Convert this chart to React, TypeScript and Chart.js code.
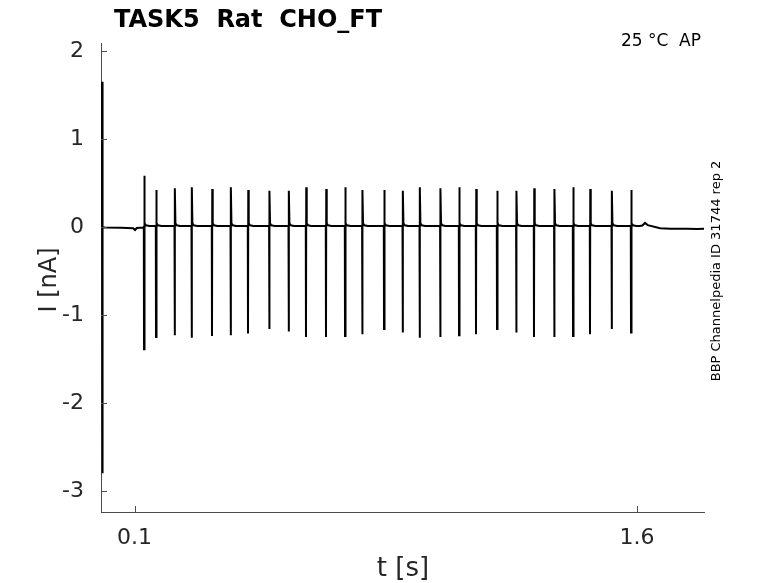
import React, { useEffect, useRef } from "react";
import { Chart, registerables } from "chart.js";

Chart.register(...registerables);

// ---- data ----
const spikeTimes = [
  0.1284, 0.1642, 0.22, 0.2707, 0.3313, 0.3872, 0.4388, 0.5024, 0.5603,
  0.6119, 0.6716, 0.7284, 0.78, 0.8448, 0.9006, 0.9513, 1.0128, 1.0687,
  1.1194, 1.1821, 1.2397, 1.2925, 1.3531, 1.409, 1.4597, 1.5245, 1.5821,
];
const spikePeaks = [
  0.58, 0.42, 0.44, 0.45, 0.43, 0.45, 0.42, 0.41, 0.41, 0.45, 0.43, 0.45,
  0.42, 0.42, 0.41, 0.45, 0.44, 0.45, 0.43, 0.41, 0.41, 0.44, 0.43, 0.45,
  0.43, 0.41, 0.42,
];
const spikeTroughs = [
  -1.39, -1.25, -1.23, -1.26, -1.24, -1.23, -1.21, -1.16, -1.19, -1.25,
  -1.25, -1.24, -1.22, -1.16, -1.2, -1.26, -1.25, -1.23, -1.22, -1.16, -1.2,
  -1.25, -1.25, -1.24, -1.22, -1.16, -1.2,
];
// time offsets (s) of points inside one spike, relative to its time
const spikeLeadOffset = -0.0006;
const spikePeakOffset = 0.0008;
const tailOffsets = [0.0022, 0.006, 0.016];
const tailValues = [0.04, 0.018, 0.01];
const interBaseline = 0.01;

const onsetTimes = [0.0022, 0.003, 0.0038, 0.0055];
const onsetValues = [0.0, 1.65, -2.8, -0.005];
const preTimes = [0.012, 0.06, 0.096, 0.1015, 0.107, 0.126];
const preValues = [-0.008, -0.01, -0.015, -0.035, -0.012, -0.006];
const postTimes = [1.608, 1.616, 1.624, 1.632, 1.669, 1.7, 1.75, 1.78, 1.8];
const postValues = [0.01, 0.015, 0.045, 0.02, -0.015, -0.02, -0.02, -0.025, -0.02];

const xTicks = [0.1, 1.6];
const yTicks = [-3, -2, -1, 0, 1, 2];
const xRange = [0, 1.8];
const yRange = [-3.24, 2.09];

const titleText = "TASK5  Rat  CHO_FT";
const cornerText = "25 °C  AP";
const sideText = "BBP Channelpedia ID 31744 rep 2";
const xLabel = "t [s]";
const yLabel = "I [nA]";

const FONT = "'DejaVu Sans', sans-serif";
const AXIS_COLOR = "#4d4d4d";
const TEXT_COLOR = "#262626";

function buildPoints() {
  const pts: { x: number; y: number }[] = [];
  onsetTimes.forEach((t, i) => pts.push({ x: t, y: onsetValues[i] }));
  preTimes.forEach((t, i) => pts.push({ x: t, y: preValues[i] }));
  spikeTimes.forEach((t, i) => {
    pts.push({ x: t + spikeLeadOffset, y: interBaseline });
    pts.push({ x: t, y: spikeTroughs[i] });
    pts.push({ x: t + spikePeakOffset, y: spikePeaks[i] });
    tailOffsets.forEach((o, j) => pts.push({ x: t + o, y: tailValues[j] }));
  });
  postTimes.forEach((t, i) => pts.push({ x: t, y: postValues[i] }));
  return pts;
}

const decorPlugin = {
  id: "decor",
  afterDraw(chart: any) {
    const ctx = chart.ctx as CanvasRenderingContext2D;
    const area = chart.chartArea;
    const xs = chart.scales.x;
    const ys = chart.scales.y;
    ctx.save();
    // inward tick marks
    ctx.strokeStyle = AXIS_COLOR;
    ctx.lineWidth = 1;
    ctx.beginPath();
    xTicks.forEach((v) => {
      const px = Math.round(xs.getPixelForValue(v)) + 0.5;
      ctx.moveTo(px, area.bottom);
      ctx.lineTo(px, area.bottom - 6);
    });
    yTicks.forEach((v) => {
      const py = Math.round(ys.getPixelForValue(v)) + 0.5;
      ctx.moveTo(area.left, py);
      ctx.lineTo(area.left + 6, py);
    });
    ctx.stroke();

    // title
    ctx.fillStyle = "#000";
    ctx.textBaseline = "alphabetic";
    ctx.textAlign = "left";
    ctx.font = `bold 24px ${FONT}`;
    ctx.fillText(titleText, 114, 27);

    // corner text (right-aligned to the axes' right edge)
    ctx.font = `17px ${FONT}`;
    ctx.textAlign = "right";
    ctx.fillText(cornerText, 701, 46);

    // x label
    ctx.fillStyle = TEXT_COLOR;
    ctx.font = `26px ${FONT}`;
    ctx.textAlign = "center";
    ctx.fillText(xLabel, 403, 576);

    // y label
    ctx.save();
    ctx.font = `24px ${FONT}`;
    ctx.translate(56, 280);
    ctx.rotate(-Math.PI / 2);
    ctx.fillText(yLabel, 0, 0);
    ctx.restore();

    // side text
    ctx.save();
    ctx.fillStyle = "#000";
    ctx.font = `13px ${FONT}`;
    ctx.translate(720, 271);
    ctx.rotate(-Math.PI / 2);
    ctx.textAlign = "center";
    ctx.fillText(sideText, 0, 0);
    ctx.restore();

    ctx.restore();
  },
};

export default function App() {
  const ref = useRef<HTMLCanvasElement>(null);
  useEffect(() => {
    if (!ref.current) return;
    const chart = new Chart(ref.current, {
      type: "line",
      data: {
        datasets: [
          {
            data: buildPoints(),
            borderColor: "#000",
            borderWidth: 2,
            pointRadius: 0,
            tension: 0,
            fill: false,
          },
        ],
      },
      options: {
        animation: false,
        responsive: false,
        devicePixelRatio: 1,
        layout: { padding: { left: 0, top: 43, right: 74, bottom: 0 } },
        plugins: {
          legend: { display: false },
          title: { display: false },
          tooltip: { enabled: false },
        },
        scales: {
          x: {
            type: "linear",
            min: xRange[0],
            max: xRange[1],
            afterBuildTicks: (s: any) => {
              s.ticks = xTicks.map((v) => ({ value: v }));
            },
            afterFit: (s: any) => {
              s.height = 71;
            },
            grid: { display: true, drawOnChartArea: false, drawTicks: false },
            border: { display: true, color: AXIS_COLOR, width: 1 },
            ticks: {
              autoSkip: false,
              maxRotation: 0,
              padding: 13,
              color: TEXT_COLOR,
              font: { family: FONT, size: 22 },
              callback: (v: any) => String(v),
            },
          },
          y: {
            type: "linear",
            min: yRange[0],
            max: yRange[1],
            afterBuildTicks: (s: any) => {
              s.ticks = yTicks.map((v) => ({ value: v }));
            },
            afterFit: (s: any) => {
              s.width = 101;
            },
            grid: { display: true, drawOnChartArea: false, drawTicks: false },
            border: { display: true, color: AXIS_COLOR, width: 1 },
            ticks: {
              autoSkip: false,
              padding: 17,
              color: TEXT_COLOR,
              font: { family: FONT, size: 22 },
              callback: (v: any) => String(v),
            },
          },
        },
      },
      plugins: [decorPlugin],
    });
    return () => chart.destroy();
  }, []);
  return (
    <div style={{ position: "absolute", left: 0, top: 0, width: 778, height: 583, background: "#fff" }}>
      <canvas ref={ref} width={778} height={583} style={{ width: 778, height: 583 }} />
    </div>
  );
}
